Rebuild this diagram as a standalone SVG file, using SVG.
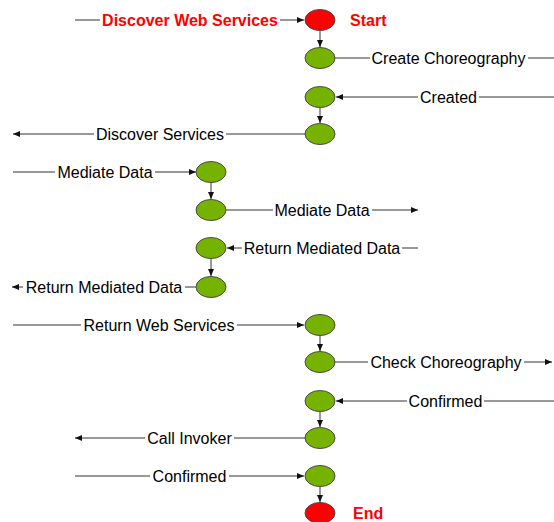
<svg xmlns="http://www.w3.org/2000/svg" width="554" height="522" viewBox="0 0 554 522">
<style>
.n ellipse{stroke:#4a4a4a;stroke-width:1}
.g{fill:#76b300}
.r{fill:#ff0000}
.c line{stroke:#333;stroke-width:1}
.lbl{font-family:"Liberation Sans",Arial,sans-serif;font-size:16px;fill:#000;text-anchor:middle}
.red{font-family:"Liberation Sans",Arial,sans-serif;font-size:16px;font-weight:bold;fill:#ff0000}
.bg{fill:#fff}
</style>
<defs>
<marker id="ah" markerWidth="8" markerHeight="6" refX="7" refY="3" orient="auto" markerUnits="userSpaceOnUse">
<path d="M0,0 L7,3 L0,6 Z" fill="#111"/>
</marker>
</defs>
<rect width="554" height="522" fill="#fff"/>
<g id="connectors" class="c">
<line x1="75" y1="20" x2="304" y2="20" marker-end="url(#ah)"/>
<line x1="320" y1="31" x2="320" y2="47" marker-end="url(#ah)"/>
<line x1="335" y1="58" x2="554" y2="58"/>
<line x1="554" y1="97" x2="336" y2="97" marker-end="url(#ah)"/>
<line x1="320" y1="107" x2="320" y2="123" marker-end="url(#ah)"/>
<line x1="305" y1="134" x2="13" y2="134" marker-end="url(#ah)"/>
<line x1="13" y1="172" x2="196" y2="172" marker-end="url(#ah)"/>
<line x1="211" y1="182" x2="211" y2="199" marker-end="url(#ah)"/>
<line x1="226" y1="210" x2="418" y2="210" marker-end="url(#ah)"/>
<line x1="418" y1="248" x2="227" y2="248" marker-end="url(#ah)"/>
<line x1="211" y1="258" x2="211" y2="276" marker-end="url(#ah)"/>
<line x1="196" y1="287" x2="12" y2="287" marker-end="url(#ah)"/>
<line x1="13" y1="325" x2="304" y2="325" marker-end="url(#ah)"/>
<line x1="320" y1="335" x2="320" y2="351" marker-end="url(#ah)"/>
<line x1="335" y1="362" x2="552" y2="362" marker-end="url(#ah)"/>
<line x1="554" y1="401" x2="336" y2="401" marker-end="url(#ah)"/>
<line x1="320" y1="411" x2="320" y2="427" marker-end="url(#ah)"/>
<line x1="305" y1="438" x2="75" y2="438" marker-end="url(#ah)"/>
<line x1="75" y1="476" x2="304" y2="476" marker-end="url(#ah)"/>
<line x1="320" y1="486" x2="320" y2="502" marker-end="url(#ah)"/>
</g>
<g id="labels">
<rect class="bg" x="100" y="10" width="180" height="20"/>
<text class="red" x="190" y="26" text-anchor="middle">Discover Web Services</text>
<rect class="bg" x="370" y="48" width="158" height="20"/>
<text class="lbl" x="448.5" y="64">Create Choreography</text>
<rect class="bg" x="418" y="87" width="61" height="20"/>
<text class="lbl" x="448.5" y="103">Created</text>
<rect class="bg" x="94" y="124" width="132" height="20"/>
<text class="lbl" x="160" y="140">Discover Services</text>
<rect class="bg" x="55" y="162" width="100" height="20"/>
<text class="lbl" x="105" y="178">Mediate Data</text>
<rect class="bg" x="273" y="200" width="99" height="20"/>
<text class="lbl" x="322" y="216">Mediate Data</text>
<rect class="bg" x="242" y="238" width="160" height="20"/>
<text class="lbl" x="322" y="254">Return Mediated Data</text>
<rect class="bg" x="23" y="277" width="162" height="20"/>
<text class="lbl" x="104" y="293">Return Mediated Data</text>
<rect class="bg" x="81" y="315" width="156" height="20"/>
<text class="lbl" x="159" y="331">Return Web Services</text>
<rect class="bg" x="368" y="352" width="156" height="20"/>
<text class="lbl" x="446" y="368">Check Choreography</text>
<rect class="bg" x="407" y="391" width="77" height="20"/>
<text class="lbl" x="445.5" y="407">Confirmed</text>
<rect class="bg" x="145" y="428" width="89" height="20"/>
<text class="lbl" x="189.5" y="444">Call Invoker</text>
<rect class="bg" x="150" y="466" width="79" height="20"/>
<text class="lbl" x="189.5" y="482">Confirmed</text>
<text class="red" x="350" y="26">Start</text>
<text class="red" x="353" y="519">End</text>
</g>
<g id="start" class="n"><ellipse class="r" cx="320" cy="20" rx="15" ry="10.5"/></g>
<g id="n1" class="n"><ellipse class="g" cx="320" cy="58" rx="15" ry="10.5"/></g>
<g id="n2" class="n"><ellipse class="g" cx="320" cy="97" rx="15" ry="10.5"/></g>
<g id="n3" class="n"><ellipse class="g" cx="320" cy="134" rx="15" ry="10.5"/></g>
<g id="n4" class="n"><ellipse class="g" cx="211" cy="172" rx="15" ry="10.5"/></g>
<g id="n5" class="n"><ellipse class="g" cx="211" cy="210" rx="15" ry="10.5"/></g>
<g id="n6" class="n"><ellipse class="g" cx="211" cy="248" rx="15" ry="10.5"/></g>
<g id="n7" class="n"><ellipse class="g" cx="211" cy="287" rx="15" ry="10.5"/></g>
<g id="n8" class="n"><ellipse class="g" cx="320" cy="325" rx="15" ry="10.5"/></g>
<g id="n9" class="n"><ellipse class="g" cx="320" cy="362" rx="15" ry="10.5"/></g>
<g id="n10" class="n"><ellipse class="g" cx="320" cy="401" rx="15" ry="10.5"/></g>
<g id="n11" class="n"><ellipse class="g" cx="320" cy="438" rx="15" ry="10.5"/></g>
<g id="n12" class="n"><ellipse class="g" cx="320" cy="476" rx="15" ry="10.5"/></g>
<g id="end" class="n"><ellipse class="r" cx="320" cy="513" rx="15" ry="10.5"/></g>
</svg>
